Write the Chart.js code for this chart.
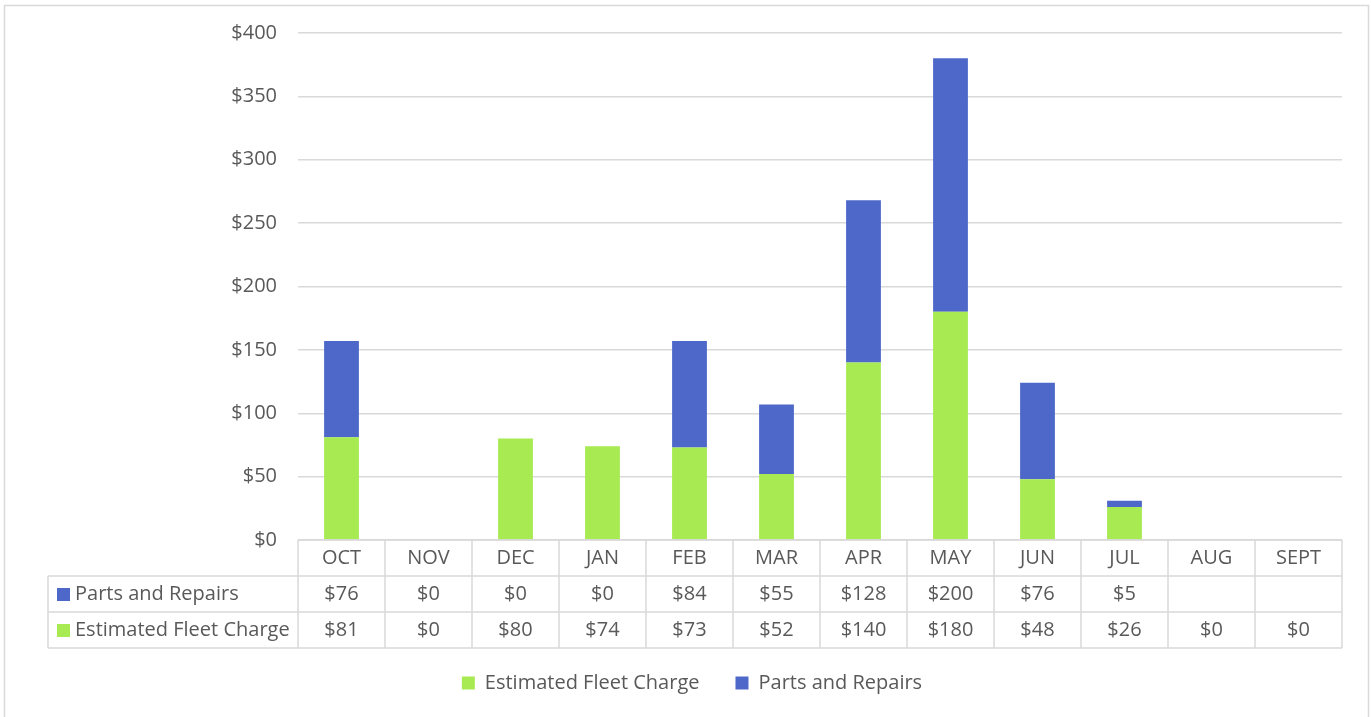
<!DOCTYPE html>
<html>
<head>
<meta charset="utf-8">
<script src="https://cdn.jsdelivr.net/npm/chart.js@4"></script>
<style>
  body { margin: 0; background: #fff; }
</style>
</head>
<body>
<canvas id="fleetChart" width="1371" height="717"></canvas>
<script>
const months = ['OCT', 'NOV', 'DEC', 'JAN', 'FEB', 'MAR', 'APR', 'MAY', 'JUN', 'JUL', 'AUG', 'SEPT']
const fleetCharge = [81, 0, 80, 74, 73, 52, 140, 180, 48, 26, 0, 0]
const partsRepairs = [76, 0, 0, 0, 84, 55, 128, 200, 76, 5, null, null]
const yTicks = [0, 50, 100, 150, 200, 250, 300, 350, 400]

const green = 'rgb(168, 234, 82)'
const blue = 'rgb(78, 104, 201)'
const textGrey = '#595959'
const lineGrey = '#d9d9d9'
const font = '"Open Sans", sans-serif'

const money = v => (v === null || v === undefined) ? '' : '$' + v

// data table under the plot, plus the outer frame
const tablePlugin = {
    id: 'dataTable',
    beforeDraw(chart) {
        const ctx = chart.ctx
        ctx.save()
        ctx.strokeStyle = lineGrey
        ctx.lineWidth = 1.5
        ctx.strokeRect(4.5, 5.5, 1364, 730)
        ctx.restore()
    },
    afterDraw(chart) {
        const ctx = chart.ctx
        const area = chart.chartArea
        const x = chart.scales.x
        const colW = (area.right - area.left) / months.length
        const rowH = 36
        const tableLeft = 48
        const y0 = area.bottom
        const y1 = y0 + rowH, y2 = y1 + rowH, y3 = y2 + rowH

        ctx.save()
        ctx.strokeStyle = lineGrey
        ctx.lineWidth = 1.5
        ctx.beginPath()
        ctx.moveTo(area.left, y0); ctx.lineTo(area.right, y0)
        ctx.moveTo(tableLeft, y1); ctx.lineTo(area.right, y1)
        ctx.moveTo(tableLeft, y2); ctx.lineTo(area.right, y2)
        ctx.moveTo(tableLeft, y3); ctx.lineTo(area.right, y3)
        ctx.moveTo(tableLeft, y1); ctx.lineTo(tableLeft, y3)
        for (let i = 0; i <= months.length; i++) {
            const bx = area.left + i * colW
            ctx.moveTo(bx, y0); ctx.lineTo(bx, y3)
        }
        ctx.stroke()

        ctx.fillStyle = textGrey
        ctx.font = '20px ' + font
        ctx.textAlign = 'center'
        ctx.textBaseline = 'middle'
        months.forEach((m, i) => {
            const cx = x.getPixelForValue(i)
            ctx.fillText(m, cx, (y0 + y1) / 2)
            ctx.fillText(money(partsRepairs[i]), cx, (y1 + y2) / 2)
            ctx.fillText(money(fleetCharge[i]), cx, (y2 + y3) / 2)
        })

        // row headers
        ctx.textAlign = 'left'
        ctx.fillStyle = blue
        ctx.fillRect(57, (y1 + y2) / 2 - 6, 13, 13)
        ctx.fillStyle = green
        ctx.fillRect(57, (y2 + y3) / 2 - 6, 13, 13)
        ctx.fillStyle = textGrey
        ctx.fillText('Parts and Repairs', 75, (y1 + y2) / 2)
        ctx.fillText('Estimated Fleet Charge', 75, (y2 + y3) / 2)
        ctx.restore()
    }
}

const chart = new Chart(document.getElementById('fleetChart'), {
    type: 'bar',
    data: {
        labels: months,
        datasets: [{
            label: 'Estimated Fleet Charge',
            data: fleetCharge,
            backgroundColor: green,
            barPercentage: 0.4,
            categoryPercentage: 1
        }, {
            label: 'Parts and Repairs',
            data: partsRepairs,
            backgroundColor: blue,
            barPercentage: 0.4,
            categoryPercentage: 1
        }]
    },
    options: {
        responsive: false,
        animation: false,
        layout: { padding: { left: 42, right: 29, top: 33, bottom: 14 } },
        plugins: {
            tooltip: { enabled: false },
            legend: {
                position: 'bottom',
                labels: {
                    color: textGrey,
                    font: { family: font, size: 20 },
                    boxWidth: 13,
                    boxHeight: 13,
                    padding: 36
                }
            }
        },
        scales: {
            x: {
                stacked: true,
                grid: { display: false },
                border: { display: false },
                ticks: { display: false },
                afterFit(scale) { scale.height = 97 }
            },
            y: {
                stacked: true,
                min: 0,
                max: 400,
                afterBuildTicks(scale) { scale.ticks = yTicks.map(v => ({ value: v })) },
                afterFit(scale) { scale.width = 256 },
                grid: { color: lineGrey, lineWidth: 1.5, drawTicks: false },
                border: { display: false },
                ticks: {
                    color: textGrey,
                    font: { family: font, size: 20 },
                    padding: 21,
                    callback: v => '$' + v
                }
            }
        }
    },
    plugins: [tablePlugin]
})
</script>
</body>
</html>
